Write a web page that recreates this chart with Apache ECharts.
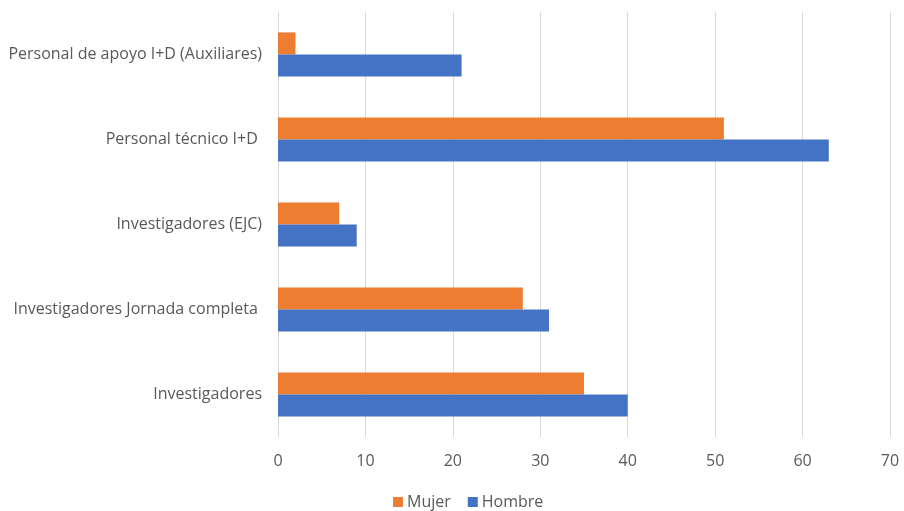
<!DOCTYPE html>
<html>
<head>
<meta charset="utf-8">
<script src="https://cdn.jsdelivr.net/npm/echarts@6/dist/echarts.min.js"></script>
<style>html,body{margin:0;padding:0;background:#fff;}#c{width:904px;height:511px;}</style>
</head>
<body>
<div id="c"></div>
<script>
const categories = ['Investigadores', 'Investigadores Jornada completa ', 'Investigadores (EJC)', 'Personal técnico I+D ', 'Personal de apoyo I+D (Auxiliares)'];
const mujer = [35, 28, 7, 51, 2];
const hombre = [40, 31, 9, 63, 21];
const xTicks = [0, 10, 20, 30, 40, 50, 60, 70];

const chart = echarts.init(document.getElementById('c'));
const font = '"Open Sans", "Noto Sans", sans-serif';
chart.setOption({
  animation: false,
  textStyle: { fontFamily: font },
  grid: { left: 278, right: 14, top: 12, bottom: 74, containLabel: false },
  legend: {
    data: ['Mujer', 'Hombre'],
    left: 388, top: 489,
    itemWidth: 10, itemHeight: 10, itemGap: 17,
    icon: 'rect',
    textStyle: { color: '#595959', fontSize: 16, fontFamily: font, padding: [0, 0, 0, -1] }
  },
  xAxis: {
    type: 'value', min: xTicks[0], max: xTicks[xTicks.length - 1], interval: 10,
    axisLine: { show: false }, axisTick: { show: false },
    splitLine: { lineStyle: { color: '#d9d9d9', width: 1 } },
    axisLabel: { color: '#595959', fontSize: 16, margin: 16, fontFamily: font }
  },
  yAxis: {
    type: 'category', data: categories,
    axisLine: { show: false }, axisTick: { show: false },
    axisLabel: { color: '#595959', fontSize: 16, margin: 16, fontFamily: font }
  },
  series: [
    { name: 'Mujer', type: 'bar', data: mujer, itemStyle: { color: '#ED7D31' }, barGap: '0%', barCategoryGap: '48%' },
    { name: 'Hombre', type: 'bar', data: hombre, itemStyle: { color: '#4472C4' }, barGap: '0%', barCategoryGap: '48%' }
  ]
});
</script>
</body>
</html>
